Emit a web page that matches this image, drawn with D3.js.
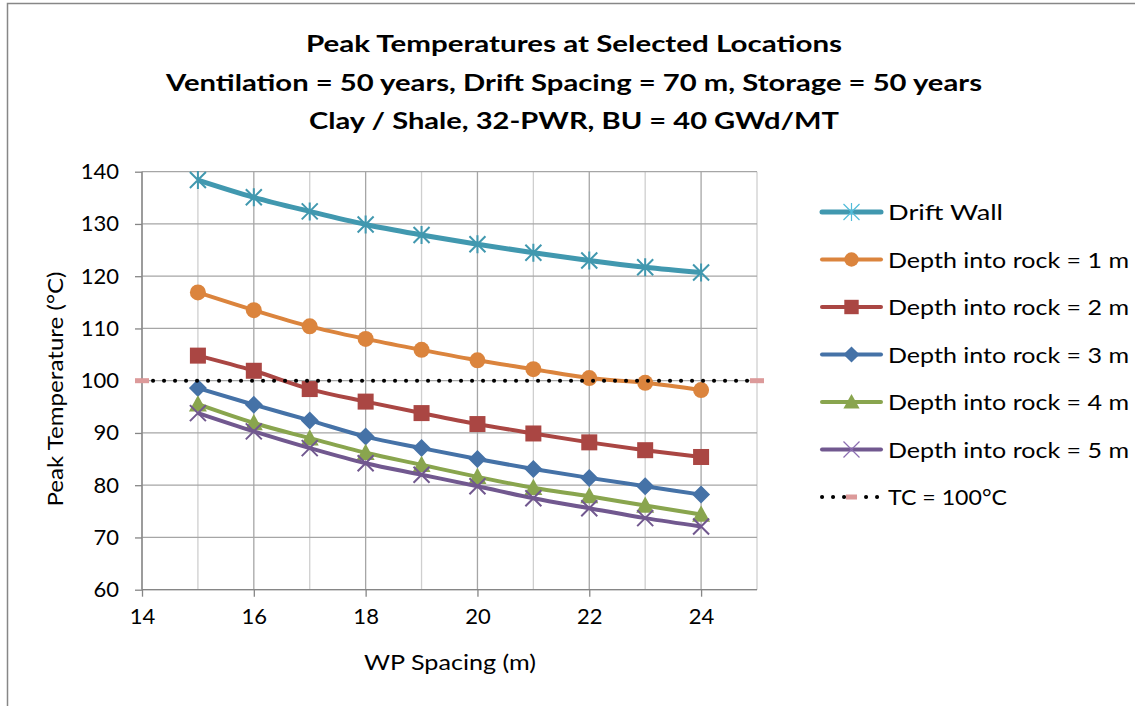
<!DOCTYPE html>
<html><head><meta charset="utf-8">
<script src="https://cdn.jsdelivr.net/npm/d3@7"></script>
<style>
html,body{margin:0;padding:0;background:#fff;}
svg{display:block;font-family:Lato,"Open Sans",sans-serif;}
</style></head>
<body>
<svg id="chart" width="1135" height="706"></svg>
<script>
// ---- data ----
const wpSpacing = [15, 16, 17, 18, 19, 20, 21, 22, 23, 24];
const driftWall = [138.4, 135.1, 132.4, 129.9, 127.9, 126.1, 124.5, 123.0, 121.7, 120.7];
const depth1 = [116.9, 113.5, 110.4, 108.0, 105.9, 103.9, 102.2, 100.5, 99.6, 98.2];
const depth2 = [104.8, 101.9, 98.4, 96.0, 93.8, 91.7, 89.9, 88.2, 86.7, 85.4];
const depth3 = [98.6, 95.4, 92.4, 89.3, 87.1, 85.0, 83.1, 81.4, 79.8, 78.2];
const depth4 = [95.5, 91.9, 89.0, 86.2, 83.9, 81.6, 79.5, 77.9, 76.1, 74.4];
const depth5 = [93.8, 90.3, 87.1, 84.2, 82.0, 79.8, 77.5, 75.6, 73.7, 72.1];
const tcX = [14, 25];
const tcY = [100, 100];
const seriesNames = ["Drift Wall", "Depth into rock = 1 m", "Depth into rock = 2 m",
  "Depth into rock = 3 m", "Depth into rock = 4 m", "Depth into rock = 5 m"];
const tcName = "TC = 100°C";
const xTicks = [14, 16, 18, 20, 22, 24];
const yTicks = [60, 70, 80, 90, 100, 110, 120, 130, 140];
const titleLines = ["Peak Temperatures at Selected Locations",
  "Ventilation = 50 years, Drift Spacing = 70 m, Storage = 50 years",
  "Clay / Shale, 32-PWR, BU = 40 GWd/MT"];
const xTitle = "WP Spacing (m)";
const yTitle = "Peak Temperature (°C)";

// ---- styles ----
const seriesData = [driftWall, depth1, depth2, depth3, depth4, depth5];
const colors = ["#4198AF", "#DB843D", "#AA4643", "#4572A7", "#89A54E", "#71588F"];
const markers = ["star", "circle", "square", "diamond", "triangle", "x"];
const lineWidths = [5, 4, 4, 4, 4, 4];
const titleWidths = [536, 816, 530];
const legendWidths = [115, 241, 241, 241, 241, 241];
const tcLegendWidth = 119;

function fit(sel, w) {
  sel.attr("textLength", w).attr("lengthAdjust", "spacingAndGlyphs");
}

const svg = d3.select("#chart");
const plot = {left: 142, right: 757, top: 171.7, bottom: 589.7};
const x = d3.scaleLinear().domain([14, 25]).range([plot.left, plot.right]);
const y = d3.scaleLinear().domain([60, 140]).range([plot.bottom, plot.top]);

// outer frame
svg.append("path").attr("d", "M7.5,706 V3.5 H1135")
  .attr("fill", "none").attr("stroke", "#878787").attr("stroke-width", 1.5);

// title
titleLines.forEach((t, i) => {
  svg.append("text").attr("x", 574).attr("y", 52 + i * 38.5)
    .attr("text-anchor", "middle").attr("font-weight", "bold")
    .attr("font-size", 22).attr("fill", "#000").text(t)
    .call(fit, titleWidths[i]);
});

// gridlines
const vGrid = d3.range(14, 26);
svg.append("g").selectAll("line").data(vGrid).join("line")
  .attr("x1", d => x(d)).attr("x2", d => x(d))
  .attr("y1", plot.top).attr("y2", plot.bottom)
  .attr("stroke", d => d % 2 === 0 ? "#a6a6a6" : "#cfcfcf").attr("stroke-width", 1.3);
svg.append("g").selectAll("line").data(yTicks).join("line")
  .attr("x1", plot.left).attr("x2", plot.right)
  .attr("y1", d => y(d)).attr("y2", d => y(d))
  .attr("stroke", "#a6a6a6").attr("stroke-width", 1.3);

// axes
const xAxis = d3.axisBottom(x).tickValues(xTicks).tickSize(7).tickPadding(12).tickFormat(d3.format("d"));
const yAxis = d3.axisLeft(y).tickValues(yTicks).tickSize(7).tickPadding(16).tickFormat(d3.format("d"));
const gx = svg.append("g").attr("transform", `translate(0,${plot.bottom})`).call(xAxis);
const gy = svg.append("g").attr("transform", `translate(${plot.left},0)`).call(yAxis);
[gx, gy].forEach(g => {
  g.select(".domain").attr("stroke", "#868686").attr("stroke-width", 1.3);
  g.selectAll(".tick line").attr("stroke", "#868686").attr("stroke-width", 1.3);
  g.selectAll(".tick text").attr("font-size", 22).attr("fill", "#000")
    .attr("font-family", "Lato, 'Open Sans', sans-serif");
});
gx.select(".domain").attr("d", `M${plot.left},0H${plot.right}`);
gy.select(".domain").attr("d", `M0,${plot.bottom}V${plot.top}`);

// axis titles
svg.append("text").attr("x", 450).attr("y", 670).attr("text-anchor", "middle")
  .attr("font-size", 22).attr("fill", "#000").text(xTitle).call(fit, 172);
svg.append("text").attr("transform", "translate(63,389) rotate(-90)")
  .attr("text-anchor", "middle").attr("font-size", 22).attr("fill", "#000").text(yTitle).call(fit, 235);

// marker drawing
function drawMarker(g, type, color, cx, cy, legend) {
  const s = legend ? 0.9 : 1;
  if (type === "circle") {
    g.append("circle").attr("cx", cx).attr("cy", cy).attr("r", 8 * s).attr("fill", color);
  } else if (type === "square") {
    g.append("rect").attr("x", cx - 8 * s).attr("y", cy - 8 * s).attr("width", 16 * s).attr("height", 16 * s).attr("fill", color);
  } else if (type === "diamond") {
    const r = 9 * s;
    g.append("path").attr("d", `M${cx},${cy - r}L${cx + r},${cy}L${cx},${cy + r}L${cx - r},${cy}Z`).attr("fill", color);
  } else if (type === "triangle") {
    const r = 9 * s;
    g.append("path").attr("d", `M${cx},${cy - r}L${cx + r},${cy + r * 0.8}L${cx - r},${cy + r * 0.8}Z`).attr("fill", color);
  } else if (type === "x" || type === "star") {
    const r = 8;
    let d = `M${cx - r},${cy - r}L${cx + r},${cy + r}M${cx - r},${cy + r}L${cx + r},${cy - r}`;
    if (type === "star") d += `M${cx},${cy - r - 1}L${cx},${cy + r + 1}`;
    g.append("path").attr("d", d).attr("fill", "none")
      .attr("stroke", legend ? d3.color(color).brighter(0.6) : color)
      .attr("stroke-width", legend ? 1.2 : 2);
  }
}

// series
const line = d3.line().x(d => x(d[0])).y(d => y(d[1])).curve(d3.curveMonotoneX);
seriesData.forEach((vals, i) => {
  const pts = wpSpacing.map((v, j) => [v, vals[j]]);
  const g = svg.append("g");
  g.append("path").datum(pts).attr("d", line).attr("fill", "none")
    .attr("stroke", colors[i]).attr("stroke-width", lineWidths[i]).attr("stroke-linejoin", "round");
  pts.forEach(p => drawMarker(g, markers[i], colors[i], x(p[0]), y(p[1]), false));
});

// TC line
const tcPts = tcX.map((v, j) => [v, tcY[j]]);
const gtc = svg.append("g");
gtc.append("path").datum(tcPts).attr("d", d3.line().x(d => x(d[0])).y(d => y(d[1])))
  .attr("fill", "none").attr("stroke", "#000").attr("stroke-width", 4)
  .attr("stroke-linecap", "round").attr("stroke-dasharray", "0.1 10.9");
tcPts.forEach(p => gtc.append("rect").attr("x", x(p[0]) - 7).attr("y", y(p[1]) - 2.5)
  .attr("width", 14).attr("height", 5).attr("fill", "#DC9A9A"));

// legend
const leg = svg.append("g");
const legY = i => 212 + i * 47.5;
seriesNames.forEach((name, i) => {
  const cy = legY(i);
  leg.append("line").attr("x1", 822).attr("x2", 881).attr("y1", cy).attr("y2", cy)
    .attr("stroke", colors[i]).attr("stroke-width", lineWidths[i]).attr("stroke-linecap", "round");
  drawMarker(leg, markers[i], colors[i], 851.5, cy, true);
  leg.append("text").attr("x", 888).attr("y", cy + 8).attr("font-size", 22).attr("fill", "#000")
    .text(name).call(fit, legendWidths[i]);
});
{
  const cy = legY(6);
  leg.append("line").attr("x1", 822).attr("x2", 881).attr("y1", cy).attr("y2", cy)
    .attr("stroke", "#000").attr("stroke-width", 4).attr("stroke-linecap", "round").attr("stroke-dasharray", "0.1 10.9");
  leg.append("rect").attr("x", 846).attr("y", cy - 2.5).attr("width", 11).attr("height", 5).attr("fill", "#DC9A9A");
  leg.append("text").attr("x", 888).attr("y", cy + 8).attr("font-size", 22).attr("fill", "#000")
    .text(tcName).call(fit, tcLegendWidth);
}
</script>
</body></html>
